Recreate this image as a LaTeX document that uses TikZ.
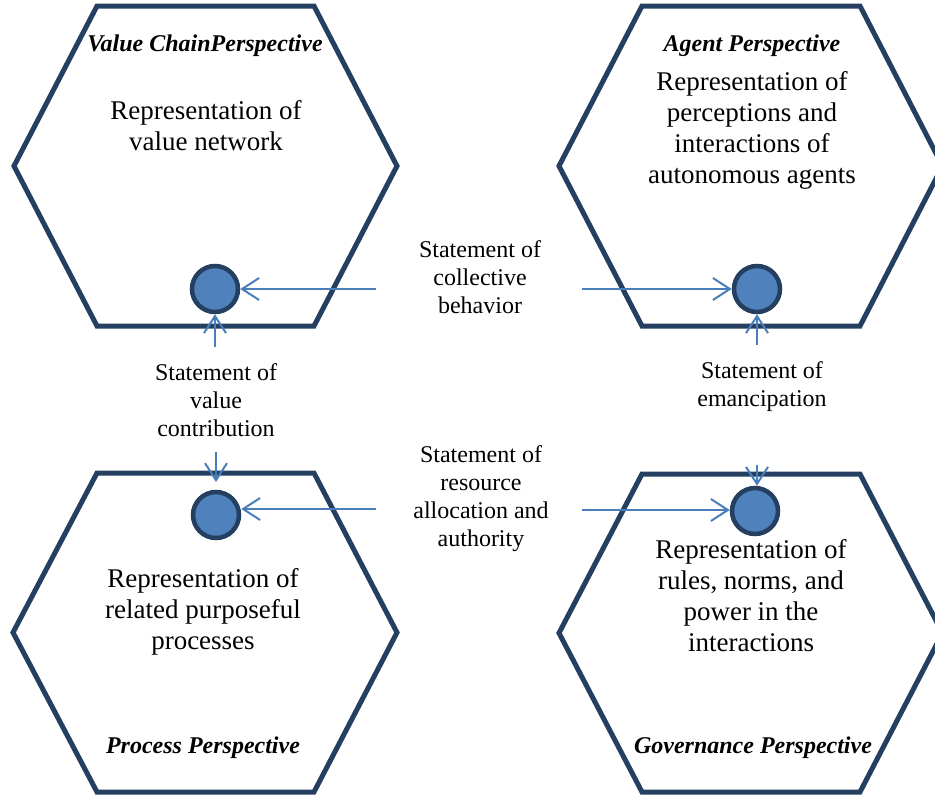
\documentclass[tikz,border=0pt]{standalone}
\usepackage{fontspec}
\setmainfont{Liberation Serif}
\usetikzlibrary{arrows.meta}
\definecolor{navy}{HTML}{243F60}
\definecolor{dotblue}{HTML}{4F81BD}
\definecolor{arrowblue}{HTML}{4A7EBB}
\tikzset{
  hexa/.style={draw=navy, line width=5pt, line join=miter},
  dot/.style={circle, draw=navy, fill=dotblue, line width=4.5pt, minimum size=46pt, inner sep=0pt},
  flow/.style={draw=arrowblue, line width=2pt, -{Straight Barb[length=17pt,width=22pt,line width=2pt]}},
  title/.style={font=\fontsize{24}{28}\selectfont\bfseries\itshape, inner sep=0pt},
  repr/.style={font=\fontsize{27}{31}\selectfont, align=center, inner sep=0pt},
  stmt/.style={font=\fontsize{24}{28}\selectfont, align=center, inner sep=0pt}
}
\begin{document}
\begin{tikzpicture}[x=1pt, y=-1pt]
\useasboundingbox (0,0) rectangle (935,796);
\clip (0,0) rectangle (935,796);
\fill[white] (0,0) rectangle (935,796);
% hexagons
\draw[hexa] (97,6) -- (314,6) -- (397,166) -- (314,326) -- (97,326) -- (14,166) -- cycle;
\draw[hexa] (642,6) -- (860,6) -- (942.5,166) -- (860,326) -- (642,326) -- (559,166) -- cycle;
\draw[hexa] (97,473) -- (314,473) -- (397,632.5) -- (314,792) -- (97,792) -- (13,632.5) -- cycle;
\draw[hexa] (642,474) -- (860,474) -- (942.5,633) -- (860,792) -- (642,792) -- (559,633) -- cycle;
% texts
\node[title] (t1) at (205,46) {Value ChainPerspective};
\node[repr] (r1) at (206,126) {Representation of\\value network};
\node[title] (t2) at (752,46) {Agent Perspective};
\node[repr] (r2) at (752,130.5) {Representation of\\perceptions and\\interactions of\\autonomous agents};
\node[repr] (r3) at (203,612) {Representation of\\related purposeful\\processes};
\node[title] (t3) at (203,747.5) {Process Perspective};
\node[repr] (r4) at (751,595.5) {Representation of\\rules, norms, and\\power in the\\interactions};
\node[title] (t4) at (753,747.5) {Governance Perspective};
\node[stmt] (s1) at (480,277.5) {Statement of\\collective\\behavior};
\node[stmt] (s2) at (216,400.5) {Statement of\\value\\contribution};
\node[stmt] (s3) at (762,387) {Statement of\\emancipation};
\node[stmt] (s4) at (481,499) {Statement of\\resource\\allocation and\\authority};
% dots
\node[dot] (c1) at (215,289) {};
\node[dot] (c2) at (757,289) {};
\node[dot] (c3) at (216,515) {};
\node[dot] (c4) at (755,511) {};
% arrow start points
\coordinate (h1) at (376,289);
\coordinate (h2) at (582,289);
\coordinate (h3) at (376,509);
\coordinate (h4) at (582,510);
\coordinate (v1) at (215,347);
\coordinate (v2) at (216,452);
\coordinate (v2e) at (216,482);
\coordinate (v3) at (757,345);
\coordinate (v4) at (757,465);
% arrows
\draw[flow] (h1) -- (c1);
\draw[flow] (h2) -- (c2);
\draw[flow] (h3) -- (h3 -| c3.east);
\draw[flow] (h4) -- (h4 -| c4.west);
\draw[flow] (v1) -- (c1);
\draw[flow] (v2) -- (v2e);
\draw[flow] (v3) -- (c2);
\draw[flow] (v4) -- (v4 |- c4.north);
\end{tikzpicture}
\end{document}
